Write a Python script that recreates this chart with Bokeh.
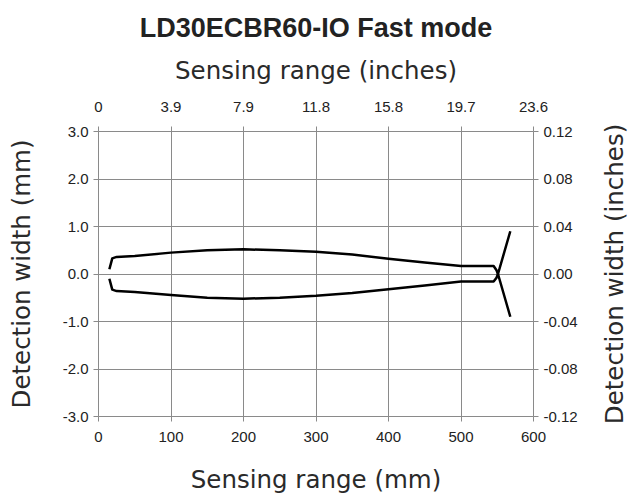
from bokeh.plotting import figure
from bokeh.layouts import row
from bokeh.models import Range1d, LinearAxis, FixedTicker, NumeralTickFormatter
from bokeh.embed import file_html
from bokeh.resources import INLINE

# Data (sensing range mm, detection width mm)
top_x = [15, 19, 25, 50, 100, 150, 200, 250, 300, 350, 400, 450, 500, 545, 549, 551, 568]
top_y = [0.10, 0.33, 0.36, 0.38, 0.45, 0.50, 0.52, 0.50, 0.47, 0.41, 0.32, 0.24, 0.17, 0.17, 0.08, 0.0, -0.90]
bot_x = [15, 19, 25, 50, 100, 150, 200, 250, 300, 350, 400, 450, 500, 545, 549, 551, 568]
bot_y = [-0.10, -0.33, -0.36, -0.38, -0.44, -0.50, -0.52, -0.50, -0.46, -0.40, -0.32, -0.24, -0.16, -0.16, -0.08, 0.0, 0.90]

mm_ticks = [0, 100, 200, 300, 400, 500, 600]
inch_labels = ["0", "3.9", "7.9", "11.8", "15.8", "19.7", "23.6"]
mm_y_ticks = [-3, -2, -1, 0, 1, 2, 3]
in_y_ticks = [-0.12, -0.08, -0.04, 0.0, 0.04, 0.08, 0.12]

TICK_FONT = "Liberation Sans"
LABEL_FONT = "DejaVu Sans"
GRID = "#8a8a8a"
FRAME_W, FRAME_H = 435, 285
TOP, BOTTOM = 131, 80

p = figure(width=98 + FRAME_W + 60, height=TOP + FRAME_H + BOTTOM,
           output_backend="svg", toolbar_location=None,
           x_range=Range1d(0, 600), y_range=Range1d(-3, 3),
           x_axis_location="below", y_axis_location="left",
           min_border_left=98, min_border_right=60, min_border_top=TOP, min_border_bottom=BOTTOM,
           title="LD30ECBR60-IO Fast mode")
p.outline_line_color = None
p.title.align = "center"
p.title.text_font = "Liberation Sans"
p.title.text_font_style = "bold"
p.title.text_font_size = "27px"
p.title.text_line_height = 0.75
p.title.text_color = "#222222"
p.title.standoff = 20

p.extra_y_ranges = {"inch": Range1d(-0.12, 0.12)}
p.extra_x_ranges = {"inchx": Range1d(0, 600)}

right = LinearAxis(y_range_name="inch",
                   ticker=FixedTicker(ticks=in_y_ticks),
                   formatter=NumeralTickFormatter(format="0.00"))
top = LinearAxis(x_range_name="inchx", axis_label="Sensing range (inches)",
                 ticker=FixedTicker(ticks=mm_ticks),
                 major_label_overrides={t: l for t, l in zip(mm_ticks, inch_labels)})
p.add_layout(right, "right")
p.add_layout(top, "above")

bottom = p.below[0]
left = p.left[0]
bottom.ticker = FixedTicker(ticks=mm_ticks)
bottom.axis_label = "Sensing range (mm)"
left.ticker = FixedTicker(ticks=mm_y_ticks)
left.formatter = NumeralTickFormatter(format="0.0")
left.axis_label = "Detection width (mm)"

for ax in [bottom, left, right, top]:
    ax.axis_line_color = GRID
    ax.major_tick_line_color = GRID
    ax.major_tick_out = 5
    ax.major_tick_in = 0
    ax.minor_tick_line_color = None
    ax.major_label_text_font = TICK_FONT
    ax.major_label_text_font_size = "15px"
    ax.major_label_text_color = "#222222"
    ax.axis_label_text_font = LABEL_FONT
    ax.axis_label_text_font_size = "24.5px"
    ax.axis_label_text_font_style = "normal"
    ax.axis_label_text_color = "#2a2a2a"

bottom.major_label_standoff = 10
top.major_label_standoff = 15
for ax in [left, right]:
    ax.major_label_standoff = 5
top.axis_label_standoff = 14
bottom.axis_label_standoff = 20
left.axis_label_standoff = 24

p.xgrid.ticker = FixedTicker(ticks=mm_ticks)
p.ygrid.ticker = FixedTicker(ticks=mm_y_ticks)
p.xgrid.grid_line_color = GRID
p.ygrid.grid_line_color = GRID

p.line(top_x, top_y, line_color="black", line_width=2.5, line_join="round")
p.line(bot_x, bot_y, line_color="black", line_width=2.5, line_join="round")

# Narrow companion figure carrying the right-hand axis title (reads bottom to top)
p2 = figure(width=42, height=TOP + FRAME_H + BOTTOM, output_backend="svg", toolbar_location=None,
            x_range=Range1d(0, 1), y_range=Range1d(-0.12, 0.12),
            x_axis_location=None, y_axis_location="left",
            min_border_left=40, min_border_right=0, min_border_top=TOP, min_border_bottom=BOTTOM)
p2.outline_line_color = None
p2.grid.visible = False
ax2 = p2.left[0]
ax2.ticker = FixedTicker(ticks=[])
ax2.axis_line_color = None
ax2.major_tick_line_color = None
ax2.minor_tick_line_color = None
ax2.major_label_text_font_size = "0px"
ax2.axis_label = "Detection width (inches)"
ax2.axis_label_text_font = LABEL_FONT
ax2.axis_label_text_font_size = "24.5px"
ax2.axis_label_text_font_style = "normal"
ax2.axis_label_text_color = "#2a2a2a"
ax2.axis_label_standoff = 5

layout = row(p, p2, spacing=0)
open("out.html", "w").write(file_html(layout, INLINE))
